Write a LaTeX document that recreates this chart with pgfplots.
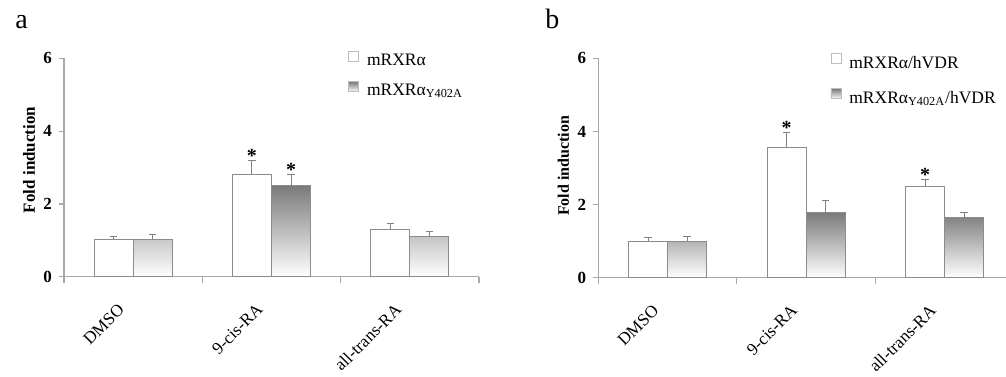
\documentclass[border=0pt]{standalone}
\usepackage{fontspec}
\setmainfont{Liberation Serif}
\usepackage{pgfplots}
\pgfplotsset{compat=1.18}
\definecolor{axgray}{HTML}{A8A8A8}
\definecolor{bargray}{HTML}{8C8C8C}
\definecolor{errgray}{HTML}{808080}
\definecolor{legedge}{HTML}{BDBDBD}
\newcommand{\fs}[1]{\fontsize{#1}{#1}\selectfont}

\pgfplotsset{
 panel/.style={
  scale only axis, width=207.5pt, height=109.2pt,
  xmin=0.5, xmax=3.5, ymin=0, ymax=6,
  axis x line=bottom, axis y line=left,
  axis line style={axgray, line width=0.6pt, -},
  /pgf/number format/assume math mode=true,
  ytick={0,2,4,6},
  yticklabel style={font=\fs{8.5}\bfseries},
  tick style={axgray, line width=0.6pt},
  tick align=outside,
  major tick length=2.5pt,
  xtick={1,2,3},
  xticklabels={DMSO,9-cis-RA,all-trans-RA},
  major x tick style={draw=none},
  minor xtick={0.5,1.5,2.5,3.5},
  minor tick length=3pt,
  xticklabel style={xshift=-8pt, yshift=-5.5pt, rotate=45, anchor=north east, font=\fs{8.6}},
  ylabel={Fold induction},
  clip=false,
  legend cell align=left,
 },
 errs/.style={error bars/.cd, y dir=plus, y explicit,
   error bar style={errgray, line width=0.5pt},
   error mark options={errgray, rotate=90, mark size=1.8pt, line width=0.5pt}},
 whitebar/.style={ybar, bar width=0.282, bar shift=0pt, draw=bargray, fill=white, line width=0.5pt,
   legend image code/.code={\draw[legedge, fill=white, line width=0.4pt] (0pt,0pt) rectangle (5pt,5pt);}},
 graybar/.style={ybar, bar width=0.282, bar shift=0pt, draw=bargray, top color=black!52, bottom color=white, line width=0.5pt,
   legend image code/.code={\shade[top color=black!52, bottom color=white, draw=legedge, line width=0.4pt] (0pt,0pt) rectangle (5pt,5pt);}},
 stars/.style={forget plot, only marks, mark=none, nodes near coords={\textbf{*}},
   nodes near coords style={font=\fs{10}, anchor=base, text=black, yshift=-1pt}},
}

\begin{document}
\begin{tikzpicture}
% panel a
\begin{axis}[panel, at={(32pt,49.65pt)}, anchor=south west,
  ylabel style={font=\fs{8.5}\bfseries, at={(rel axis cs:-0.084,0.535)}, anchor=center},
  legend style={draw=none, fill=none, at={(rel axis cs:0.684,1.04)}, anchor=north west,
    font=\fs{8.75}, row sep=4pt, inner sep=0pt, /tikz/every odd column/.style={column sep=2pt}}]
\addplot[whitebar, errs] coordinates {(0.859,1.01) +- (0,0.09) (1.859,2.81) +- (0,0.38) (2.859,1.31) +- (0,0.16)};
\addplot[graybar, errs] coordinates {(1.141,1.02) +- (0,0.13) (2.141,2.50) +- (0,0.31) (3.141,1.10) +- (0,0.15)};
\addplot[stars] coordinates {(1.859,3.19) (2.141,2.81)};
\legend{mRXRα, mRXRα\textsubscript{Y402A}}
\end{axis}
% panel b
\begin{axis}[panel, at={(299.15pt,49.15pt)}, anchor=south west, height=109.7pt, width=207.75pt,
  ylabel style={font=\fs{8}\bfseries, at={(rel axis cs:-0.084,0.51)}, anchor=center},
  legend style={draw=none, fill=none, at={(rel axis cs:0.558,1.03)}, anchor=north west,
    font=\fs{8.75}, row sep=6pt, inner sep=0pt, /tikz/every odd column/.style={column sep=2pt}}]
\addplot[whitebar, errs] coordinates {(0.859,1.0) +- (0,0.09) (1.859,3.57) +- (0,0.39) (2.859,2.49) +- (0,0.20)};
\addplot[graybar, errs] coordinates {(1.141,1.0) +- (0,0.13) (2.141,1.78) +- (0,0.33) (3.141,1.64) +- (0,0.15)};
\addplot[stars] coordinates {(1.859,3.96) (2.859,2.69)};
\legend{mRXRα/hVDR, mRXRα\textsubscript{Y402A}/hVDR}
\end{axis}
\node[anchor=base west, inner sep=0pt, font=\fs{14}] at (7.5pt,174pt) {a};
\node[anchor=base west, inner sep=0pt, font=\fs{14}] at (272.5pt,174pt) {b};
\pgfresetboundingbox
\useasboundingbox (0,0) rectangle (503pt,188pt);
\end{tikzpicture}
\end{document}
